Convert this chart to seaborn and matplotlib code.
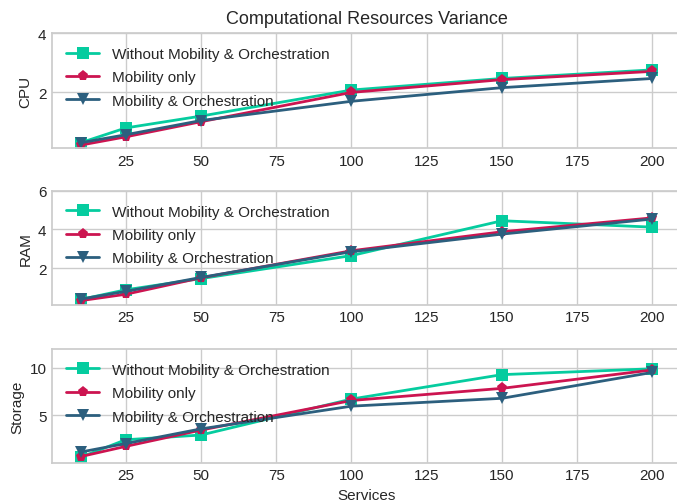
import matplotlib
matplotlib.use("Agg")
import matplotlib.pyplot as plt
import seaborn as sns

# Number of services on the x axis
services = [10, 25, 50, 100, 150, 200]

# CPU usage per scenario
cpu_without = [0.30, 0.80, 1.20, 2.08, 2.47, 2.76]
cpu_mobility = [0.22, 0.50, 1.01, 2.00, 2.43, 2.71]
cpu_orchestration = [0.30, 0.57, 1.05, 1.70, 2.16, 2.47]

# RAM usage per scenario
ram_without = [0.38, 0.88, 1.46, 2.65, 4.45, 4.12]
ram_mobility = [0.32, 0.65, 1.50, 2.90, 3.88, 4.60]
ram_orchestration = [0.40, 0.80, 1.52, 2.85, 3.76, 4.54]

# Storage usage per scenario
storage_without = [0.55, 2.40, 2.90, 6.70, 9.28, 9.90]
storage_mobility = [0.62, 1.70, 3.42, 6.55, 7.83, 9.78]
storage_orchestration = [1.10, 2.00, 3.55, 5.95, 6.78, 9.52]

labels = ["Without Mobility & Orchestration", "Mobility only", "Mobility & Orchestration"]
colors = ["#05cc9f", "#cc1450", "#2c5f7e"]
markers = ["s", "p", "v"]

panels = [
    ("CPU", [cpu_without, cpu_mobility, cpu_orchestration], (0.12, 4), [2, 4]),
    ("RAM", [ram_without, ram_mobility, ram_orchestration], (0.11, 6), [2, 4, 6]),
    ("Storage", [storage_without, storage_mobility, storage_orchestration], (-0.04, 12), [5, 10]),
]

sns.set_theme(style="whitegrid")
plt.rcParams["font.family"] = ["Liberation Sans", "DejaVu Sans"]
plt.rcParams["axes.edgecolor"] = "#cccccc"
plt.rcParams["grid.color"] = "#cccccc"

fig = plt.figure(figsize=(6.77, 5.02), dpi=100)
boxes = [(0.932, 0.703), (0.618, 0.391), (0.303, 0.076)]

for (name, series, ylim, yticks), (top, bottom) in zip(panels, boxes):
    ax = fig.add_axes([0.0768, bottom, 1.006 - 0.0768, top - bottom])
    for vals, lab, col, mk in zip(series, labels, colors, markers):
        sns.lineplot(x=services, y=vals, ax=ax, color=col, marker=mk,
                     markersize=8, markeredgewidth=0, linewidth=2, label=lab)
    ax.set_xlim(0.5, 209.5)
    ax.set_xticks([25, 50, 75, 100, 125, 150, 175, 200])
    ax.set_ylim(*ylim)
    ax.set_yticks(yticks)
    ax.set_ylabel(name, fontsize=11, color="#262626")
    ax.tick_params(labelsize=11, colors="#262626", length=0, pad=4)
    ax.legend(loc="upper left", frameon=False, fontsize=11, handlelength=2.2,
              borderaxespad=0.5, labelspacing=0.62)
    if name == "CPU":
        ax.set_title("Computational Resources Variance", fontsize=13, color="#262626", pad=7)
    if name == "Storage":
        ax.set_xlabel("Services", fontsize=11, color="#262626")

fig.savefig("out.png", dpi=100)
